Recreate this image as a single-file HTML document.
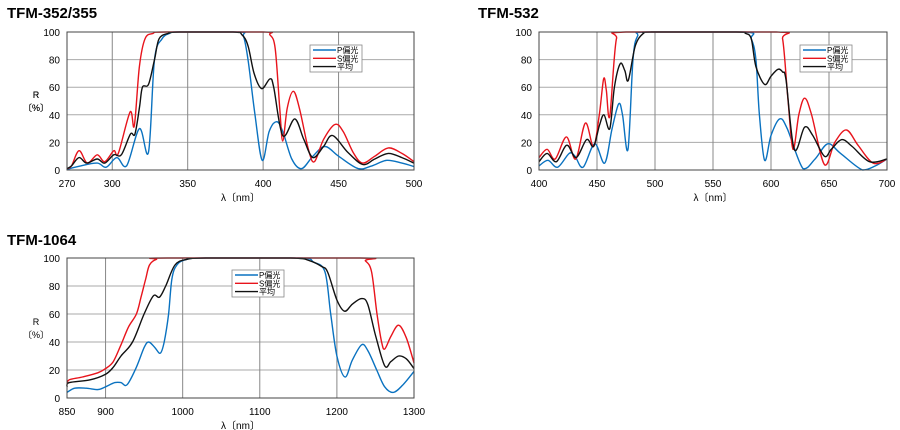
<!DOCTYPE html>
<html><head><meta charset="utf-8"><style>
body{margin:0;background:#fff;width:900px;height:430px;overflow:hidden}
svg{display:block;font-family:"Liberation Sans","Noto Sans CJK JP",sans-serif}
</style></head><body>
<svg id="s" width="900" height="430" xmlns="http://www.w3.org/2000/svg"></svg>
<script>
const S=document.getElementById('s');let h='';
function path(pts,X,Y,col){
 const p=pts.map(([a,b])=>[X(a),Y(b)]);
 let d='M'+p[0][0].toFixed(1)+','+p[0][1].toFixed(1);
 for(let i=0;i<p.length-1;i++){
  const p0=p[i-1]||p[i],p1=p[i],p2=p[i+1],p3=p[i+2]||p2;
  const t=6;
  let c1=[p1[0]+(p2[0]-p0[0])/t,p1[1]+(p2[1]-p0[1])/t];
  let c2=[p2[0]-(p3[0]-p1[0])/t,p2[1]-(p3[1]-p1[1])/t];
  const top=Y(100),bot=Y(0);
  c1[1]=Math.min(Math.max(c1[1],top),bot);c2[1]=Math.min(Math.max(c2[1],top),bot);
  d+=`C${c1[0].toFixed(1)},${c1[1].toFixed(1)} ${c2[0].toFixed(1)},${c2[1].toFixed(1)} ${p2[0].toFixed(1)},${p2[1].toFixed(1)}`;
 }
 return `<path d="${d}" fill="none" stroke="${col}" stroke-width="1.4"/>`;
}
function chart(o){
 const {x0,x1,y0,y1,a,b,ticks,title,tx,ty,P,Sx,A,lg}=o;
 const X=v=>x0+(v-a)/(b-a)*(x1-x0),Y=v=>y1-(v/100)*(y1-y0);
 h+=`<text x="${tx}" y="${ty}" font-size="15" font-weight="bold">${title}</text>`;
 for(let v=20;v<100;v+=20)h+=`<line x1="${x0}" x2="${x1}" y1="${Y(v)}" y2="${Y(v)}" stroke="#aaa" stroke-width="1"/>`;
 ticks.forEach((t,i)=>{if(i>0&&i<ticks.length-1)h+=`<line x1="${X(t)}" x2="${X(t)}" y1="${y0}" y2="${y1}" stroke="#888" stroke-width="1"/>`;
  h+=`<text x="${X(t)}" y="${y1+17}" font-size="10" text-anchor="middle">${t}</text>`});
 for(let v=0;v<=100;v+=20)h+=`<text x="${x0-7}" y="${Y(v)+4}" font-size="10" text-anchor="end">${v}</text>`;
 h+=`<text x="36" y="${(y0+y1)/2-3}" font-size="9" text-anchor="middle">R</text><text x="36" y="${(y0+y1)/2+10}" font-size="9" text-anchor="middle">〔%〕</text>`;
 h+=`<text x="${(x0+x1)/2}" y="${y1+31}" font-size="10" text-anchor="middle">λ〔nm〕</text>`;
 h+=path(P,X,Y,'#0a72c0')+path(Sx,X,Y,'#e8141c')+path(A,X,Y,'#111');
 h+=`<rect x="${x0}" y="${y0}" width="${x1-x0}" height="${y1-y0}" fill="none" stroke="#444" stroke-width="1"/>`;
 const [lx,ly]=lg;
 h+=`<rect x="${lx}" y="${ly}" width="52" height="27" fill="#fff" stroke="#888" stroke-width="0.8"/>`;
 [['#0a72c0','P偏光'],['#e8141c','S偏光'],['#111','平均']].forEach(([c,t],i)=>{
  const yy=ly+5+i*8.3;h+=`<line x1="${lx+3}" x2="${lx+26}" y1="${yy}" y2="${yy}" stroke="${c}" stroke-width="1.4"/><text x="${lx+27}" y="${yy+3}" font-size="8">${t}</text>`});
}
chart({x0:67,x1:414,y0:32,y1:170,a:270,b:500,ticks:[270,300,350,400,450,500],title:'TFM-352/355',tx:7,ty:18,lg:[310,45],
P:[[270,0.5],[279,3],[290,5],[296,2],[303,9],[309.5,3],[318,30],[324,13],[328,80],[333,95],[338,99],[343,100],[384,100],[387,97],[390,80],[394.6,40],[399.4,7],[404,28],[409,35],[413,28],[419,8],[425.5,1],[433,10],[441,17],[450,10],[463,1],[472,3],[482,7],[492,5],[500,2.5]],
Sx:[[270,1],[273,3],[278,14],[283.5,5],[290,11],[295,6],[301,14],[304,12],[311.8,42],[314.6,32],[318,75],[321.7,95],[327,99],[336,100],[400,100],[404.5,98],[408,88],[411,45],[413,21],[416,45],[420,57],[424,45],[430,15],[434,6],[440,22],[447.6,33],[453,28],[460,12],[466,5],[474,10],[483,16],[492,12],[500,6]],
A:[[270,1],[273,3],[278,9],[283,5],[290,8],[295,5],[301,11],[306,11],[312,26],[315,26],[318,45],[320,60],[324,62],[328,80],[331,95],[337,99],[345,100],[380,100],[386,98],[390,90],[394,70],[399,59],[404.5,66],[407,60],[413,25],[421,37],[427,22],[433,9],[440,17],[446,25],[456,13],[466,4],[474,8],[483,12],[492,9],[500,5]]});
chart({x0:539,x1:887,y0:32,y1:170,a:400,b:700,ticks:[400,450,500,550,600,650,700],title:'TFM-532',tx:478,ty:18,lg:[800,45],
P:[[400,3],[407.8,7],[416,2],[426,12],[431,10],[438,2],[448,19],[456.6,5],[463,30],[468.7,48],[472,40],[476.7,15],[481,80],[485,97],[492.5,100],[577,100],[583,95],[587,80],[590,40],[594.5,7],[600,25],[607.5,37],[614,30],[627.6,1],[638,8],[649,19],[660,12],[679,0],[690,3],[700,8]],
Sx:[[400,9],[407,15],[414,8],[423.6,24],[431.6,8],[440,34],[447,17],[452,40],[455.7,66],[458,58],[461,39],[466.7,95],[475,100],[604.6,100],[610,95],[614.7,50],[619,15],[624,40],[629,52],[635,40],[646,4],[655,20],[665,29],[675,18],[688,5],[700,8]],
A:[[400,6],[407,12],[415,6],[424,18],[432,9],[441,22],[447,17],[452,32],[456,40],[461,30],[465,60],[470,77],[474,72],[477,65],[483,90],[490,99],[497,100],[570,100],[578,99],[583,95],[587,75],[594.5,62],[600,68],[606,73],[610,71],[613,65],[620,15],[629,31],[636,25],[646,10],[652,15],[661,22],[670,17],[685,6],[700,8]]});
chart({x0:67,x1:414,y0:258,y1:398,a:850,b:1300,ticks:[850,900,1000,1100,1200,1300],title:'TFM-1064',tx:7,ty:245,lg:[232,270],
P:[[850,4],[860,7],[875,7],[890,6],[900,8],[912,11],[920,11],[928,9.5],[940,22],[950,36],[956,40],[964,36],[971,32],[976,40],[981.7,60],[986,85],[992.5,95],[1005,99],[1030,100],[1150,100],[1170,97],[1184.6,90],[1192,60],[1200,30],[1210.5,15],[1220,27],[1232,38],[1240,34],[1251.6,20],[1262,8],[1273,4],[1285,9],[1300,19]],
Sx:[[850,10],[853,13],[870,15],[890,18],[900,21],[910,26],[920,38],[930,51],[940,60],[946,72],[952,85],[957,95],[966,99],[980,100],[1230,100],[1237,98],[1245,90],[1252,60],[1258,40],[1262,35],[1270,44],[1280,52],[1290,43],[1300,25]],
A:[[850,8],[853,11],[880,13],[900,17],[910,22],[920,30],[935,40],[950,60],[962,73],[970,72],[978,80],[990,95],[1005,99],[1030,100],[1140,100],[1165,98],[1180,94],[1188,90],[1200,70],[1210,62],[1220,67],[1232,71],[1240,67],[1250,45],[1262,23],[1270,26],[1280,30],[1290,28],[1300,21]]});
S.innerHTML=h;
</script>
</body></html>
